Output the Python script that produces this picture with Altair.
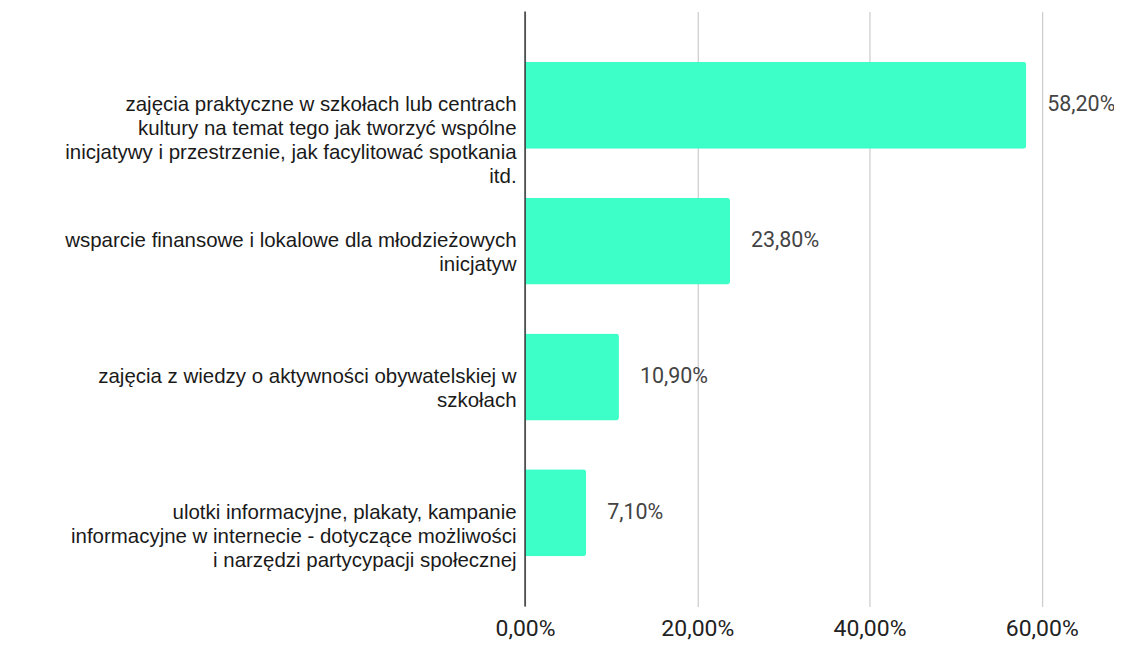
import altair as alt
import pandas as pd

categories = [
    "zajęcia praktyczne w szkołach lub centrach|kultury na temat tego jak tworzyć wspólne|inicjatywy i przestrzenie, jak facylitować spotkania|itd.",
    "wsparcie finansowe i lokalowe dla młodzieżowych|inicjatyw",
    "zajęcia z wiedzy o aktywności obywatelskiej w|szkołach",
    "ulotki informacyjne, plakaty, kampanie|informacyjne w internecie - dotyczące możliwości|i narzędzi partycypacji społecznej",
]
values = [0.582, 0.238, 0.109, 0.071]
value_labels = ["58,20%", "23,80%", "10,90%", "7,10%"]

df = pd.DataFrame({"cat": categories, "val": values, "lab": value_labels})

CAT_FONT = "Liberation Sans, Arial, sans-serif"
NUM_FONT = "Roboto"

y = alt.Y(
    "cat:N",
    sort=categories,
    title=None,
    scale=alt.Scale(paddingInner=0.36, paddingOuter=0.37),
    axis=alt.Axis(
        labelExpr="split(datum.label, '|')",
        labelFont=CAT_FONT,
        labelFontSize=20.5,
        labelColor="#1a1a1a",
        labelLineHeight=24,
        labelPadding=9,
        labelLimit=600,
        ticks=False,
        domain=False,
        grid=False,
    ),
)

x = alt.X(
    "val:Q",
    title=None,
    scale=alt.Scale(domain=[0, 0.67], nice=False, zero=True),
    axis=alt.Axis(
        values=[0, 0.2, 0.4, 0.6],
        labelExpr="replace(format(datum.value*100, '.2f'), '.', ',') + '%'",
        labelFont=NUM_FONT,
        labelFontSize=23,
        labelColor="#222222",
        labelPadding=11,
        labelFlush=False,
        grid=True,
        gridColor="#cccccc",
        gridWidth=1.2,
        ticks=False,
        domain=False,
    ),
)

bars = alt.Chart(df).mark_bar(color="#3dffc8", cornerRadiusEnd=3).encode(x=x, y=y)

text = alt.Chart(df).mark_text(
    align="left", dx=21, font=NUM_FONT, fontSize=21.5, color="#444444"
).encode(x="val:Q", y=alt.Y("cat:N", sort=categories), text="lab:N")

zero = alt.Chart(pd.DataFrame({"z": [0]})).mark_rule(color="#333333", strokeWidth=1.5).encode(x="z:Q")

chart = alt.layer(bars, text, zero).properties(
    width=578,
    height=596,
    autosize=alt.AutoSizeParams(type="none"),
    padding={"left": 518, "top": 3, "right": 12, "bottom": 38},
).configure(background="white").configure_view(stroke=None)

chart.save("out.html", embed_options={"renderer": "svg", "actions": False})
